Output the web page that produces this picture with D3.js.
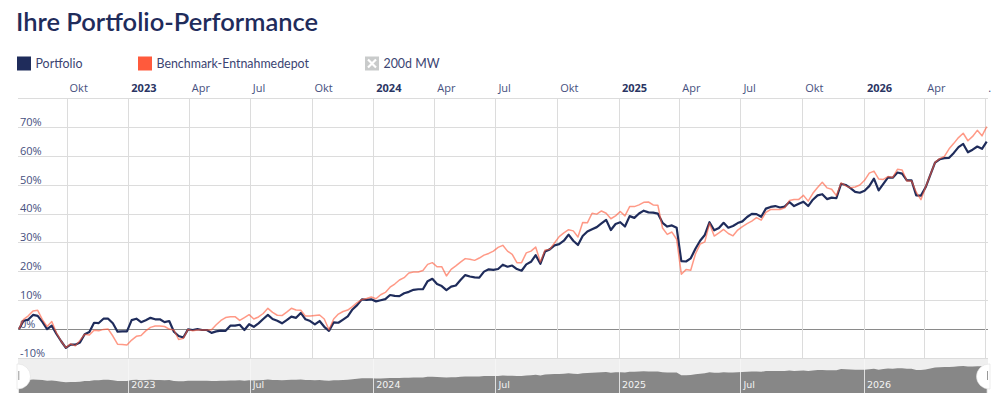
<!DOCTYPE html>
<html><head><meta charset="utf-8">
<script src="https://cdn.jsdelivr.net/npm/d3@7"></script>
<style>body{margin:0;background:#fff} svg{display:block}</style>
</head><body><svg id="c" width="1000" height="399"></svg>
<script>
// ---- data ----
const title = "Ihre Portfolio-Performance";
const seriesNames = ["Portfolio", "Benchmark-Entnahmedepot", "200d MW"];
const pointStart = "2022-07-22";   // weekly points
const pointIntervalDays = 7;
const portfolio = [
0,2.9,3.3,4.9,4.6,2.5,0,1.2,-1.7,-4.2,
-6.5,-5.4,-5.4,-4.6,-1.8,-1.0,2.2,2.1,3.6,3.6,
2.0,-0.9,-0.8,-0.8,3.1,3.6,2.4,3.1,3.9,3.4,
3.4,2.4,2.8,-0.9,-2.4,-2.9,-0.1,-0.3,0,-0.3,
-0.3,-1.3,-0.8,-0.5,-0.6,1.2,1.2,1.5,-0.3,1.7,
0.8,2.0,3.5,4.9,3.5,2.9,2.0,3.1,4.3,3.9,
5.6,3.4,2.8,1.6,2.8,0.8,-0.6,2.3,2.2,3.3,
4.4,6.8,8.3,10.3,10.1,10.3,9.6,10.0,10.4,11.8,
11.5,11.4,12.4,12.9,13.6,13.8,13.8,16.6,17.4,15.6,
14.9,13.5,14.7,15.1,17.0,18.7,18.2,17.9,17.8,19.9,
20.7,20.5,20.8,22.3,21.6,22.0,20.8,20.2,22.4,23.3,
25.6,22.6,26.9,27.6,29.0,29.4,30.6,32.7,30.6,29.1,
32.2,33.8,34.6,35.3,36.6,37.8,34.3,36.4,37.0,35.5,
39.1,38.5,40.0,41.0,40.4,40.3,40.0,36.8,35.5,35.9,
35.1,23.5,23.4,24.5,27.8,30.6,32.6,37.0,34.2,35.0,
36.8,35.1,35.7,36.7,37.3,38.8,39.9,39.8,38.9,41.7,
42.3,42.6,42.1,42.4,44.0,42.6,43.4,44.1,42.6,44.8,
46.3,46.7,45.0,45.5,45.3,50.3,49.9,48.8,47.5,47.2,
47.9,49.5,52.1,48.0,50.3,52.5,52.4,54.2,53.8,51.5,
51.5,46.3,46.2,49.1,53.4,57.6,58.8,59.2,59.3,61.0,
63.0,64.1,61.2,62.1,63.2,62.4,64.9
];
const benchmark = [
0,3.4,4.6,6.3,6.5,3.3,0.9,2.6,-1.3,-4.2,
-6.4,-5.1,-5.8,-3.9,-1.8,-2.0,-0.4,-0.6,-0.1,0.0,
-2.4,-5.2,-5.3,-5.5,-3.8,-2.5,-2.2,-0.6,0.6,1.1,
1.1,0.9,0.0,-0.3,-3.6,-3.2,-0.1,-0.6,-0.3,-0.3,
-0.3,-0.2,1.5,3.0,4.0,4.3,4.3,3.0,4.0,5.0,
3.5,4.2,5.4,7.2,5.8,4.8,4.7,5.9,7.2,6.6,
6.5,4.5,4.5,4.7,4.9,3.5,-0.2,3.5,5.2,6.1,
6.6,7.8,9.2,10.2,10.6,11.1,10.5,11.9,12.7,14.5,
15.6,17.0,17.8,19.4,19.8,19.8,20.3,22.4,23.0,21.6,
21.6,18.4,20.7,21.9,23.2,24.4,24.2,23.8,24.6,25.6,
26.2,27.0,28.3,29.0,27.0,25.9,23.0,23.0,26.4,27.0,
28.4,23.2,27.4,27.6,29.8,32.0,33.3,34.4,34.0,31.9,
36.9,36.8,40.1,39.8,40.9,40.1,38.2,39.2,40.7,39.2,
42.4,42.4,43.0,43.9,44.0,43.0,42.9,35.0,32.8,33.6,
31.1,19.0,20.6,20.4,26.0,29.4,30.2,36.6,32.2,33.3,
34.5,33.1,32.3,34.3,35.5,36.5,37.4,38.6,37.7,40.4,
41.4,41.4,41.4,42.0,44.5,44.9,44.9,46.3,44.3,47.0,
49.0,50.8,48.9,48.4,46.2,50.6,49.6,48.9,49.2,49.9,
51.5,54.0,54.7,52.0,51.8,52.8,52.5,55.3,55.1,51.3,
51.3,47.4,44.8,49.2,53.4,57.7,59.0,59.8,62.4,64.3,
66.3,67.8,65.2,66.7,68.8,66.9,70.1
];
const yTicks = [-10,0,10,20,30,40,50,60,70];
const topTickDates = ["2022-10-01","2023-01-01","2023-04-01","2023-07-01","2023-10-01","2024-01-01","2024-04-01","2024-07-01","2024-10-01","2025-01-01","2025-04-01","2025-07-01","2025-10-01","2026-01-01","2026-04-01","2026-07-01"];
const topTickLabels = ["Okt","2023","Apr","Jul","Okt","2024","Apr","Jul","Okt","2025","Apr","Jul","Okt","2026","Apr","."];
const navTickDates = ["2023-01-01","2023-07-01","2024-01-01","2024-07-01","2025-01-01","2025-07-01","2026-01-01"];
const navTickLabels = ["2023","Jul","2024","Jul","2025","Jul","2026"];

// ---- drawing ----
const parse = d3.utcParse("%Y-%m-%d");
const t0 = parse(pointStart);
const dates = portfolio.map((_, i) => d3.utcDay.offset(t0, i * pointIntervalDays));
const svg = d3.select("#c");
const L = 18, R = 988, T = 98, B = 358;
const navT = 359, navB = 393;

const x = d3.scaleUtc().domain([dates[0], dates[dates.length - 1]]).range([18.9, 986.7]);
const y = d3.scaleLinear().domain([-10, 80]).range([B, T]);
const navY = d3.scaleLinear().domain([-53.5, 94.3]).range([navB, navT]);

const FONT = "'Open Sans', 'Noto Sans', sans-serif";
const navy = "#1f2c5b";
const labelColor = "#46507e";

// title
svg.append("text").attr("x", 16).attr("y", 31).text(title)
  .attr("font-family", "Lato, 'Open Sans', sans-serif").attr("font-size", 25.5)
  .attr("font-weight", 600).attr("fill", navy);

// legend
const legendX = [17, 138, 365];
const legendColors = [navy, "#ff5a3c", "#c9cbcb"];
const lg = svg.append("g");
seriesNames.forEach((n, i) => {
  const g = lg.append("g").attr("transform", `translate(${legendX[i]},56.5)`);
  g.append("rect").attr("width", 14).attr("height", 14).attr("fill", legendColors[i]);
  if (i === 2) {
    g.append("path").attr("d", "M3,3L11,11M11,3L3,11").attr("stroke", "#fff").attr("stroke-width", 2.2);
  }
  g.append("text").attr("x", 18.5).attr("y", 11).text(n)
    .attr("font-family", "Lato, 'Open Sans', sans-serif").attr("font-size", 12.4).attr("fill", "#3b4472");
});

// horizontal gridlines
svg.append("g").selectAll("line").data(yTicks).join("line")
  .attr("x1", L).attr("x2", R).attr("y1", d => Math.round(y(d)) + 0.5).attr("y2", d => Math.round(y(d)) + 0.5)
  .attr("stroke", d => d === 0 ? "#8a8a8a" : "#dcdcdc").attr("stroke-width", 1);

// vertical gridlines
const topDates = topTickDates.map(parse);
svg.append("g").selectAll("line").data(topDates).join("line")
  .attr("x1", d => Math.round(x(d)) + 0.5).attr("x2", d => Math.round(x(d)) + 0.5)
  .attr("y1", T).attr("y2", B).attr("stroke", "#dcdcdc");

// top axis
const topAxis = d3.axisTop(x).tickValues(topDates).tickSize(0).tickPadding(6)
  .tickFormat((d, i) => topTickLabels[i]);
const ta = svg.append("g").attr("transform", `translate(0,${T})`).call(topAxis);
ta.select(".domain").attr("stroke", "#dcdcdc").attr("d", `M${L},0.5H${R}`);
ta.selectAll("text").attr("text-anchor", "start").attr("dx", 2.5)
  .attr("font-family", FONT).attr("font-size", 11)
  .attr("fill", (d, i) => /^\d{4}$/.test(topTickLabels[i]) ? "#2a3563" : labelColor)
  .attr("font-weight", (d, i) => /^\d{4}$/.test(topTickLabels[i]) ? 700 : 400);

// y axis labels
const yAxis = d3.axisRight(y).tickValues(yTicks).tickSize(0).tickPadding(0).tickFormat(d => d + "%");
const ya = svg.append("g").attr("transform", "translate(20,0)").call(yAxis);
ya.select(".domain").remove();
ya.selectAll("text").attr("dy", "-0.15em").attr("font-family", FONT).attr("font-size", 11).attr("fill", labelColor);

// lines
const clip = svg.append("clipPath").attr("id", "plot").append("rect")
  .attr("x", L).attr("y", T).attr("width", R - L).attr("height", B - T);
const line = d3.line().x((d, i) => x(dates[i])).y(d => y(d));
const pg = svg.append("g").attr("clip-path", "url(#plot)");
pg.append("path").datum(portfolio).attr("d", line).attr("fill", "none")
  .attr("stroke", navy).attr("stroke-width", 2.2).attr("stroke-linejoin", "round");
pg.append("path").datum(benchmark).attr("d", line).attr("fill", "none")
  .attr("stroke", "#ff5a3c").attr("stroke-opacity", 0.62).attr("stroke-width", 1.5).attr("stroke-linejoin", "round");

// navigator
svg.append("rect").attr("x", L).attr("y", navT).attr("width", R - L).attr("height", navB - navT).attr("fill", "#efefef");
const area = d3.area().x((d, i) => x(dates[i])).y0(navB).y1(d => navY(d));
svg.append("path").datum(portfolio).attr("d", area).attr("fill", "#878787");
const navDates = navTickDates.map(parse);
svg.append("g").selectAll("line").data(navDates).join("line")
  .attr("x1", d => Math.round(x(d)) + 0.5).attr("x2", d => Math.round(x(d)) + 0.5)
  .attr("y1", navT).attr("y2", navB).attr("stroke", "#f6f6f6").attr("stroke-opacity", 0.8);
const navAxis = d3.axisBottom(x).tickValues(navDates).tickSize(0).tickPadding(0).tickFormat((d, i) => navTickLabels[i]);
const na = svg.append("g").attr("transform", `translate(0,${navB})`).call(navAxis);
na.select(".domain").remove();
na.selectAll("text").attr("text-anchor", "start").attr("dx", 2.5).attr("y", -5).attr("dy", 0)
  .attr("font-family", "'DejaVu Sans', sans-serif").attr("font-size", 9.5).attr("fill", "#f4f4f4");

// handles
const hg = svg.append("g");
hg.append("path").attr("d", `M17,364H18A12.5,12.5 0 0 1 18,389H17Z`).attr("fill", "#fff")
  .attr("stroke", "#e0e0e0").attr("stroke-width", 0.6);
hg.append("line").attr("x1", 18.8).attr("x2", 18.8).attr("y1", 371).attr("y2", 380).attr("stroke", "#999");
hg.append("path").attr("d", `M990,364H989A12.5,12.5 0 0 0 989,389H990Z`).attr("fill", "#fff")
  .attr("stroke", "#e0e0e0").attr("stroke-width", 0.6);
hg.append("line").attr("x1", 987.5).attr("x2", 987.5).attr("y1", 371).attr("y2", 380).attr("stroke", "#999");
</script></body></html>
